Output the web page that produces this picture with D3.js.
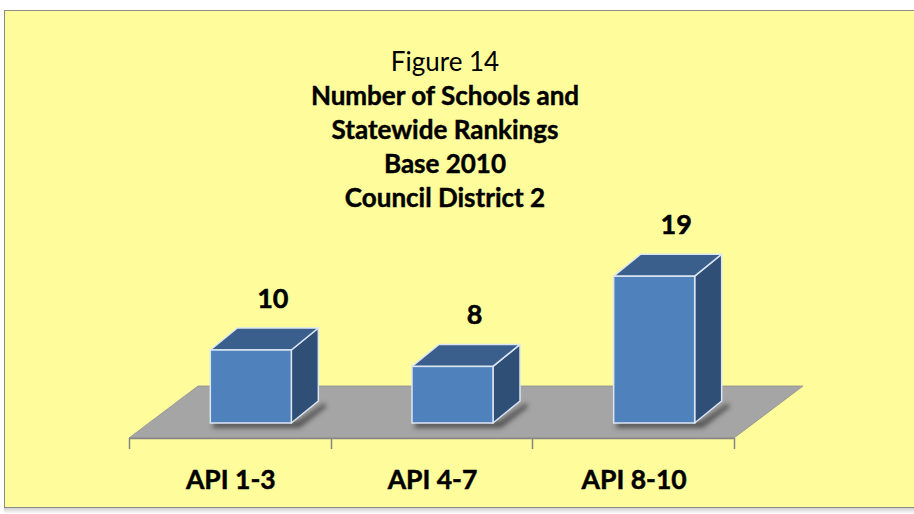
<!DOCTYPE html>
<html><head><meta charset="utf-8">
<script src="https://cdn.jsdelivr.net/npm/d3@7"></script>
<style>html,body{margin:0;padding:0;background:#fff;overflow:hidden}</style>
</head><body>
<script>
const categories = ["API 1-3", "API 4-7", "API 8-10"];
const values = [10, 8, 19];
const titleLines = ["Figure 14", "Number of Schools and", "Statewide Rankings", "Base 2010", "Council District 2"];
const titleBold = [false, true, true, true, true];

const W = 914, H = 514;
const FONT = "Lato, 'Open Sans', sans-serif";
const svg = d3.select("body").append("svg").attr("width", W).attr("height", H);
const defs = svg.append("defs");
defs.append("filter").attr("id", "blur").attr("x", "-50%").attr("y", "-50%").attr("width", "200%").attr("height", "200%")
  .append("feGaussianBlur").attr("stdDeviation", 2.5);
const lg = defs.append("linearGradient").attr("id", "bshadow").attr("x1", 0).attr("y1", 0).attr("x2", 0).attr("y2", 1);
lg.append("stop").attr("offset", 0).attr("stop-color", "#d0d0d0");
lg.append("stop").attr("offset", 1).attr("stop-color", "#ffffff");

// chart frame
svg.append("rect").attr("x", 4).attr("y", 508).attr("width", 920).attr("height", 6).attr("fill", "url(#bshadow)");
svg.append("rect").attr("x", 4.5).attr("y", 10.5).attr("width", 930).attr("height", 497)
  .attr("fill", "#FFFD9B").attr("stroke", "#8a8a8a").attr("stroke-width", 1);

// scales
const x = d3.scaleBand().domain(categories).range([129, 734]).paddingInner(0).paddingOuter(0);
const y = d3.scaleLinear().domain([0, 20]).range([432, 268]);

const floorY = 438, depthFloorX = 69, depthFloorY = -52;
const bw = 81, dx = 27, dy = -22, barShift = 21, barBase = y(0) - 9;

// floor
const fx0 = x.range()[0], fx1 = x.range()[1];
svg.append("polygon")
  .attr("points", [[fx0, floorY], [fx1, floorY], [fx1 + depthFloorX, floorY + depthFloorY], [fx0 + depthFloorX, floorY + depthFloorY]].map(p => p.join(",")).join(" "))
  .attr("fill", "#A5A5A5").attr("stroke", "#8f8f8f").attr("stroke-width", 0.8);

// axis line + ticks
const ticks = categories.map(c => x(c)).concat([fx1]);
svg.append("line").attr("x1", fx0).attr("x2", fx1).attr("y1", floorY + 0.5).attr("y2", floorY + 0.5)
  .attr("stroke", "#868686").attr("stroke-width", 1.5);
svg.selectAll(".tick").data(ticks).enter().append("line")
  .attr("x1", d => Math.round(d) + 0.5).attr("x2", d => Math.round(d) + 0.5)
  .attr("y1", floorY).attr("y2", floorY + 11)
  .attr("stroke", "#868686").attr("stroke-width", 1.5);

// bars
const bars = svg.selectAll(".bar").data(categories.map((c, i) => ({c, v: values[i]}))).enter().append("g");
bars.each(function(d) {
  const g = d3.select(this);
  const left = x(d.c) + x.bandwidth() / 2 + barShift - bw / 2;
  const right = left + bw;
  const top = y(d.v), bot = barBase;
  g.append("polygon")
    .attr("points", [[left + 4, bot - 2], [right + 6, bot - 2], [right + dx + 6, bot + dy + 2], [right + dx + 8, bot + dy + 6], [right + 8, bot + 5], [left + 2, bot + 5]].map(p => p.join(",")).join(" "))
    .attr("fill", "#3a3a3a").attr("opacity", 0.75).attr("filter", "url(#blur)");
  const st = {stroke: "#dce6f2", sw: 1.5};
  g.append("polygon")
    .attr("points", [[right, top], [right + dx, top + dy], [right + dx, bot + dy], [right, bot]].map(p => p.join(",")).join(" "))
    .attr("fill", "#2F4F77").attr("stroke", st.stroke).attr("stroke-width", st.sw).attr("stroke-linejoin", "round");
  g.append("polygon")
    .attr("points", [[left, top], [left + dx, top + dy], [right + dx, top + dy], [right, top]].map(p => p.join(",")).join(" "))
    .attr("fill", "#3B5F8C").attr("stroke", st.stroke).attr("stroke-width", st.sw).attr("stroke-linejoin", "round");
  g.append("rect").attr("x", left).attr("y", top).attr("width", bw).attr("height", bot - top)
    .attr("fill", "#4F81BD").attr("stroke", st.stroke).attr("stroke-width", st.sw);
  g.append("text").attr("x", left + bw / 2 + 22).attr("y", top + dy - 20)
    .attr("text-anchor", "middle").attr("font-family", FONT)
    .attr("font-weight", "bold").attr("font-size", 27).attr("fill", "#000")
    .attr("stroke", "#000").attr("stroke-width", 0.5).text(d.v);
});

// category labels
svg.selectAll(".cat").data(categories).enter().append("text")
  .attr("x", d => x(d) + x.bandwidth() / 2 + 1).attr("y", 489)
  .attr("text-anchor", "middle").attr("font-family", FONT)
  .attr("font-weight", "bold").attr("font-size", 26.5).attr("fill", "#000")
  .attr("stroke", "#000").attr("stroke-width", 0.5).text(d => d);

// title
svg.selectAll(".title").data(titleLines).enter().append("text")
  .attr("x", 445).attr("y", (d, i) => 71 + i * 33.9)
  .attr("text-anchor", "middle").attr("font-family", FONT)
  .attr("font-weight", (d, i) => titleBold[i] ? "bold" : "normal")
  .attr("stroke", "#000").attr("stroke-width", (d, i) => titleBold[i] ? 0.45 : 0)
  .attr("font-size", 26).attr("fill", "#000").text(d => d);
</script>
</body></html>
